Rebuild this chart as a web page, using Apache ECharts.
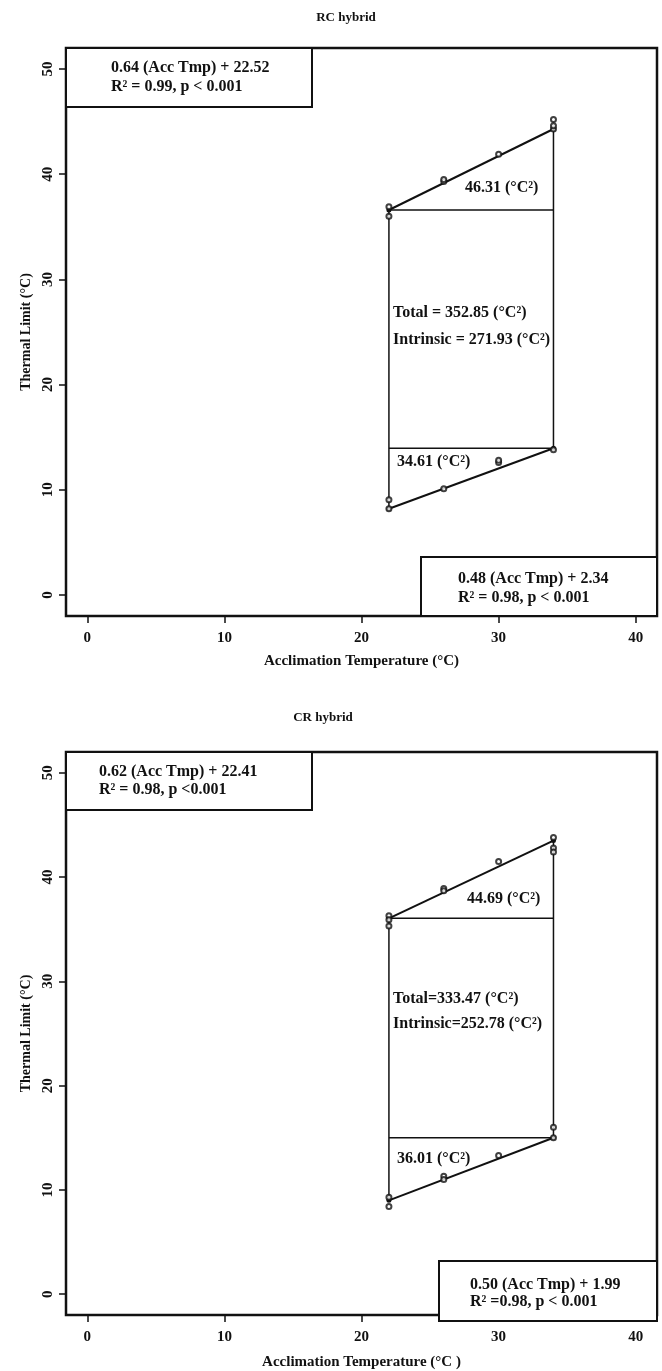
<!DOCTYPE html>
<html>
<head>
<meta charset="utf-8">
<script src="https://cdn.jsdelivr.net/npm/echarts@6/dist/echarts.min.js"></script>
<style>
  html, body { margin: 0; padding: 0; background: #fff; }
  #chart { width: 662px; height: 1371px; }
</style>
</head>
<body>
<div id="chart"></div>
<script>
// Acclimation temperatures and tick values
const accTemps = [22, 26, 30, 34];
const fitEnds = [22, 34];
const xTickValues = [0, 10, 20, 30, 40];
const yTickValues = [0, 10, 20, 30, 40, 50];

// RC hybrid: individual thermal limits (upper = CTmax, lower = CTmin)
const rcUpperX = [22, 22, 26, 26, 30, 34, 34, 34];
const rcUpperY = [36.9, 36.0, 39.3, 39.5, 41.9, 44.3, 44.6, 45.2];
const rcLowerX = [22, 22, 26, 30, 30, 34];
const rcLowerY = [9.05, 8.2, 10.1, 12.6, 12.8, 13.8];
// RC hybrid: fitted limits at 22 and 34 °C
const rcUpperFit = [36.6, 44.3];
const rcLowerFit = [8.2, 13.95];

// CR hybrid: individual thermal limits
const crUpperX = [22, 22, 22, 26, 26, 30, 34, 34, 34];
const crUpperY = [36.3, 35.9, 35.3, 38.9, 38.7, 41.5, 43.8, 42.8, 42.4];
const crLowerX = [22, 22, 26, 26, 30, 34, 34];
const crLowerY = [9.3, 8.4, 11.3, 11.0, 13.3, 15.0, 16.0];
// CR hybrid: fitted limits at 22 and 34 °C
const crUpperFit = [36.05, 43.5];
const crLowerFit = [9.0, 15.0];

const INK = '#111';
const FONT = '"Liberation Serif", "Times New Roman", serif';

function pairs(xs, ys) {
  return xs.map((x, i) => [x, ys[i]]);
}

function segment(idx, data, width, withDots) {
  return {
    type: 'line',
    xAxisIndex: idx, yAxisIndex: idx,
    data: data,
    symbol: withDots ? 'circle' : 'none',
    symbolSize: 5,
    itemStyle: { color: INK },
    lineStyle: { color: INK, width: width },
    silent: true,
    animation: false,
    z: 3
  };
}

function panelSeries(idx, upX, upY, loX, loY, upFit, loFit) {
  const [x0, x1] = fitEnds;
  return [
    {
      type: 'scatter',
      xAxisIndex: idx, yAxisIndex: idx,
      data: pairs(upX, upY).concat(pairs(loX, loY)),
      symbol: 'emptyCircle',
      symbolSize: 5,
      itemStyle: { color: INK, borderColor: INK, borderWidth: 1.1 },
      animation: false,
      z: 4
    },
    // regression lines
    segment(idx, [[x0, upFit[0]], [x1, upFit[1]]], 2, true),
    segment(idx, [[x0, loFit[0]], [x1, loFit[1]]], 2, true),
    // intrinsic tolerance rectangle and plasticity triangles
    segment(idx, [[x0, upFit[0]], [x1, upFit[0]]], 1.5, false),
    segment(idx, [[x0, loFit[1]], [x1, loFit[1]]], 1.5, false),
    segment(idx, [[x0, loFit[0]], [x0, upFit[0]]], 1.5, false),
    segment(idx, [[x1, loFit[1]], [x1, upFit[1]]], 1.5, false)
  ];
}

function xAxisDef(idx, name, gap) {
  return {
    type: 'value', gridIndex: idx, position: 'bottom',
    min: -1.55, max: 41.55,
    name: name, nameLocation: 'middle', nameGap: gap,
    nameTextStyle: { color: INK, fontFamily: FONT, fontWeight: 'bold', fontSize: 15 },
    axisLine: { show: false, onZero: false },
    splitLine: { show: false },
    axisTick: { show: true, inside: false, length: 7, customValues: xTickValues,
      lineStyle: { color: INK, width: 1.5 } },
    axisLabel: { customValues: xTickValues, margin: 15, color: INK,
      fontFamily: FONT, fontWeight: 'bold', fontSize: 15 }
  };
}

function yAxisDef(idx) {
  return {
    type: 'value', gridIndex: idx, position: 'left',
    min: -2, max: 52,
    name: 'Thermal Limit (°C)', nameLocation: 'middle', nameGap: 20, nameRotate: 90,
    nameTextStyle: { color: INK, fontFamily: FONT, fontWeight: 'bold', fontSize: 14 },
    axisLine: { show: false, onZero: false },
    splitLine: { show: false },
    axisTick: { show: true, inside: false, length: 7, customValues: yTickValues,
      lineStyle: { color: INK, width: 1.5 } },
    axisLabel: { customValues: yTickValues, rotate: 90, margin: 10, color: INK,
      fontFamily: FONT, fontWeight: 'bold', fontSize: 15 }
  };
}

function txt(x, y, s, size, align) {
  return {
    type: 'text', x: x, y: y, z: 20,
    style: { text: s, x: 0, y: 0, fill: INK, font: 'bold ' + size + 'px ' + FONT,
      textAlign: align || 'left', textVerticalAlign: 'middle' }
  };
}

function box(x, y, w, h) {
  return {
    type: 'rect', z: 15,
    shape: { x: x, y: y, width: w, height: h },
    style: { fill: '#fff', stroke: INK, lineWidth: 2 }
  };
}

const graphics = [
  // panel titles
  txt(346, 18, 'RC hybrid', 13, 'center'),
  txt(323, 718, 'CR hybrid', 13, 'center'),

  // RC hybrid equation boxes
  box(66, 48, 246, 59),
  txt(111, 68, '0.64 (Acc Tmp) + 22.52', 16),
  txt(111, 87, 'R² = 0.99, p < 0.001', 16),
  box(421, 557, 236, 59),
  txt(458, 579, '0.48 (Acc Tmp) + 2.34', 16),
  txt(458, 598, 'R² = 0.98, p < 0.001', 16),

  // RC hybrid area annotations
  txt(465, 188, '46.31 (°C²)', 16),
  txt(393, 313, 'Total = 352.85 (°C²)', 16),
  txt(393, 340, 'Intrinsic = 271.93 (°C²)', 16),
  txt(397, 462, '34.61 (°C²)', 16),

  // CR hybrid equation boxes
  box(66, 752, 246, 58),
  txt(99, 772, '0.62 (Acc Tmp) + 22.41', 16),
  txt(99, 790, 'R² = 0.98, p <0.001', 16),
  box(439, 1261, 218, 60),
  txt(470, 1285, '0.50 (Acc Tmp) + 1.99', 16),
  txt(470, 1302, 'R² =0.98, p < 0.001', 16),

  // CR hybrid area annotations
  txt(467, 899, '44.69 (°C²)', 16),
  txt(393, 999, 'Total=333.47 (°C²)', 16),
  txt(393, 1024, 'Intrinsic=252.78 (°C²)', 16),
  txt(397, 1159, '36.01 (°C²)', 16)
];

const chart = echarts.init(document.getElementById('chart'), null, { renderer: 'canvas' });
chart.setOption({
  backgroundColor: '#fff',
  animation: false,
  grid: [
    { left: 66, right: 5, top: 48, height: 568, show: true, borderColor: INK, borderWidth: 2.5, backgroundColor: 'transparent' },
    { left: 66, right: 5, top: 752, height: 569, show: true, borderColor: INK, borderWidth: 2.5, backgroundColor: 'transparent' }
  ],
  xAxis: [
    xAxisDef(0, 'Acclimation Temperature (°C)', 38),
    xAxisDef(1, 'Acclimation Temperature (°C )', 40)
  ],
  yAxis: [yAxisDef(0), yAxisDef(1)],
  series: [].concat(
    panelSeries(0, rcUpperX, rcUpperY, rcLowerX, rcLowerY, rcUpperFit, rcLowerFit),
    panelSeries(1, crUpperX, crUpperY, crLowerX, crLowerY, crUpperFit, crLowerFit)
  ),
  graphic: graphics
});
</script>
</body>
</html>
